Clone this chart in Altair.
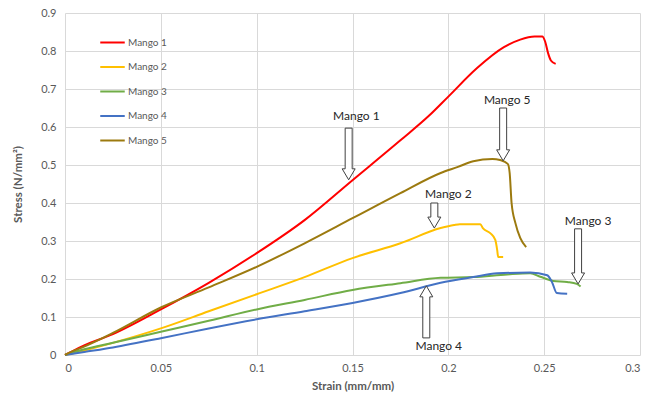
import altair as alt
import pandas as pd

# ---------------- data ----------------
series_names = ["Mango 1", "Mango 2", "Mango 3", "Mango 4", "Mango 5"]
series_colors = ["#ff0000", "#ffc000", "#70ad47", "#4472c4", "#9c7a0f"]

m1_x = [0, 0.005, 0.01, 0.025, 0.05, 0.075, 0.1, 0.125, 0.15, 0.175, 0.19, 0.2, 0.215, 0.229, 0.2375, 0.245, 0.249, 0.2505, 0.252, 0.2535, 0.256]
m1_y = [0, 0.013, 0.025, 0.055, 0.12, 0.19, 0.268, 0.355, 0.46, 0.565, 0.63, 0.68, 0.755, 0.81, 0.83, 0.838, 0.838, 0.825, 0.795, 0.775, 0.766]

m2_x = [0, 0.01, 0.025, 0.05, 0.075, 0.1, 0.125, 0.15, 0.175, 0.196, 0.203, 0.206, 0.2167, 0.218, 0.222, 0.2245, 0.2255, 0.226, 0.2286]
m2_y = [0, 0.012, 0.032, 0.07, 0.115, 0.16, 0.205, 0.255, 0.294, 0.334, 0.342, 0.344, 0.344, 0.334, 0.32, 0.303, 0.276, 0.258, 0.258]

m3_x = [0, 0.01, 0.025, 0.05, 0.075, 0.1, 0.125, 0.15, 0.175, 0.196, 0.213, 0.2307, 0.2427, 0.248, 0.2547, 0.262, 0.267, 0.269]
m3_y = [0, 0.015, 0.032, 0.061, 0.09, 0.12, 0.145, 0.171, 0.189, 0.203, 0.205, 0.212, 0.215, 0.206, 0.195, 0.192, 0.187, 0.18]

m4_x = [0, 0.01, 0.025, 0.05, 0.075, 0.1, 0.125, 0.15, 0.175, 0.196, 0.213, 0.2255, 0.2427, 0.2516, 0.254, 0.2566, 0.262]
m4_y = [0, 0.008, 0.02, 0.044, 0.07, 0.094, 0.115, 0.137, 0.163, 0.19, 0.205, 0.215, 0.217, 0.21, 0.193, 0.163, 0.161]

m5_x = [0, 0.005, 0.01, 0.025, 0.05, 0.075, 0.1, 0.125, 0.15, 0.175, 0.196, 0.205, 0.213, 0.223, 0.227, 0.231, 0.232, 0.233, 0.235, 0.2375, 0.2406]
m5_y = [0, 0.012, 0.022, 0.058, 0.125, 0.178, 0.232, 0.294, 0.36, 0.426, 0.479, 0.495, 0.51, 0.516, 0.513, 0.503, 0.479, 0.4, 0.347, 0.308, 0.284]

# annotations: label, text x, text y, arrow x, arrow tip y, arrow tail y
ann_labels = ["Mango 1", "Mango 2", "Mango 5", "Mango 3", "Mango 4"]
ann_text_x = [0.152, 0.200, 0.2307, 0.2729, 0.195]
ann_text_y = [0.629, 0.424, 0.671, 0.353, 0.024]
ann_arrow_x = [0.148, 0.1927, 0.2286, 0.2677, 0.1885]
ann_arrow_tip = [0.461, 0.334, 0.511, 0.187, 0.182]
ann_arrow_tail = [0.597, 0.400, 0.650, 0.332, 0.045]

x_ticks = [0, 0.05, 0.1, 0.15, 0.2, 0.25, 0.3]
y_ticks = [0, 0.1, 0.2, 0.3, 0.4, 0.5, 0.6, 0.7, 0.8, 0.9]

# ---------------- build tables ----------------
rows = []
for name, xs, ys in zip(series_names, [m1_x, m2_x, m3_x, m4_x, m5_x], [m1_y, m2_y, m3_y, m4_y, m5_y]):
    for i, (xv, yv) in enumerate(zip(xs, ys)):
        rows.append({"series": name, "strain": xv, "stress": yv, "idx": i})
df = pd.DataFrame(rows)

W, H = 575, 342
FONT = "Lato"
GREY = "#595959"

xscale = alt.Scale(domain=[0, 0.3], nice=False, zero=True)
yscale = alt.Scale(domain=[0, 0.9], nice=False, zero=True)

x_axis = alt.Axis(values=x_ticks, format=".2~f", title="Strain (mm/mm)",
                  grid=True, gridColor="#d9d9d9", domain=False, ticks=False,
                  labelOverlap=False, tickCount=7,
                  labelFont=FONT, labelFontSize=11, labelColor=GREY, labelPadding=7,
                  titleFont=FONT, titleFontSize=11.5, titleFontWeight="bold",
                  titleColor=GREY, titleX=W / 2, titleY=31, titleBaseline="middle")
y_axis = alt.Axis(values=y_ticks, format=".1~f", title="Stress (N/mm²)",
                  grid=True, gridColor="#d9d9d9", domain=False, ticks=False,
                  labelOverlap=False, tickCount=10,
                  labelFont=FONT, labelFontSize=11, labelColor=GREY, labelPadding=9,
                  titleFont=FONT, titleFontSize=11.5, titleFontWeight="bold",
                  titleColor=GREY, titleX=-47, titleY=H / 2, titleBaseline="middle",
                  titleAlign="center")

lines = alt.Chart(df).mark_line(strokeWidth=2, interpolate="monotone").encode(
    x=alt.X("strain:Q", scale=xscale, axis=x_axis),
    y=alt.Y("stress:Q", scale=yscale, axis=y_axis),
    color=alt.Color("series:N",
                    scale=alt.Scale(domain=series_names, range=series_colors),
                    legend=alt.Legend(orient="none", legendX=34, legendY=16, title=None,
                                      symbolType="stroke", symbolSize=600, symbolStrokeWidth=2,
                                      labelFont=FONT, labelFontSize=10, labelColor=GREY,
                                      rowPadding=5.5, labelOffset=2)),
    order="idx:Q",
)

ann_df = pd.DataFrame({"label": ann_labels, "strain": ann_text_x, "stress": ann_text_y})
texts = alt.Chart(ann_df).mark_text(font=FONT, fontSize=12, color="#262626",
                                    baseline="middle", align="center").encode(
    x=alt.X("strain:Q", scale=xscale, axis=x_axis),
    y=alt.Y("stress:Q", scale=yscale, axis=y_axis), text="label:N")

layers = [lines]
for ax, tip, tail in zip(ann_arrow_x, ann_arrow_tip, ann_arrow_tail):
    L = abs(tail - tip) * H / 0.9
    half = L / 2.0
    sw = 3.5 / half
    hw = 6.5 / half
    hl = 11.0 / half
    d = 1 if tip < tail else -1  # tip below tail -> points down (svg y positive)
    pts = [(-sw, -d), (sw, -d), (sw, d * (1 - hl)), (hw, d * (1 - hl)), (0, d),
           (-hw, d * (1 - hl)), (-sw, d * (1 - hl))]
    path = "M" + " L".join(f"{px:.4f},{py:.4f}" for px, py in pts) + " Z"
    adf = pd.DataFrame({"strain": [ax], "stress": [(tip + tail) / 2]})
    arrow = alt.Chart(adf).mark_point(shape=path, size=L * L, filled=True, fill="white",
                                      stroke="#404040", strokeWidth=1, opacity=1).encode(
        x=alt.X("strain:Q", scale=xscale, axis=x_axis),
        y=alt.Y("stress:Q", scale=yscale, axis=y_axis))
    layers.append(arrow)
layers.append(texts)

chart = alt.layer(*layers).properties(
    width=W, height=H,
    autosize=alt.AutoSizeParams(type="none"),
    padding={"left": 65, "top": 13, "right": 19, "bottom": 43},
    background="white",
).configure_view(stroke=None)

chart.save("out.html", embed_options={"renderer": "svg", "actions": False})
